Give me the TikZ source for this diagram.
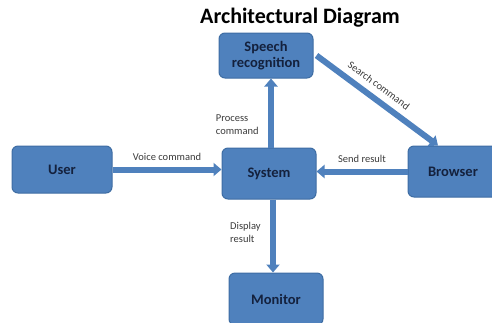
\documentclass[tikz,border=0pt]{standalone}
\usepackage{fontspec}
\setmainfont{Carlito}
\usetikzlibrary{arrows.meta}
\definecolor{boxblue}{HTML}{4F81BD}
\definecolor{boxline}{HTML}{3E6DA3}
\definecolor{boxtext}{HTML}{14213D}
\definecolor{labeltext}{HTML}{3A3A3A}
\begin{document}
\begin{tikzpicture}[x=1pt, y=-1pt,
    block/.style={rectangle, rounded corners=6pt, draw=boxline, fill=boxblue,
        line width=1pt, text=boxtext, font=\fontsize{14.5}{16}\selectfont\bfseries,
        align=center, inner sep=0pt},
    flow/.style={draw=boxblue, line width=6pt, -{Triangle[width=13pt, length=8pt]}},
    tag/.style={font=\fontsize{10.5}{12.5}\selectfont, text=labeltext, align=left}
]
    \useasboundingbox (0,0) rectangle (492,322);
    \node[font=\fontsize{22}{24}\selectfont\bfseries] (title) at (300,18) {Architectural Diagram};
    \node[block, minimum width=94pt, minimum height=45pt] (speech) at (266,55.5) {Speech\\recognition};
    \node[block, minimum width=100pt, minimum height=47pt] (user) at (62,169.5) {User};
    \node[block, minimum width=94pt, minimum height=51pt] (system) at (269,173.5) {System};
    \node[block, minimum width=90pt, minimum height=51pt] (browser) at (453,171.5) {Browser};
    \node[block, minimum width=94pt, minimum height=52pt] (monitor) at (276,299) {Monitor};
    \draw[flow] (user.east) -- (system.west |- user.east)
        node[tag, midway, above=3pt] {Voice command};
    \draw[flow] (browser.west) -- (system.east |- browser.west)
        node[tag, midway, above=3pt] {Send result};
    \draw[flow] ([xshift=2pt]system.north) -- ([xshift=2pt]system.north |- speech.south)
        node[tag, pos=0.33, left=6pt] {Process\\command};
    \draw[flow] ([xshift=4pt]system.south) -- ([xshift=4pt]system.south |- monitor.north)
        node[tag, pos=0.45, left=6pt] {Display\\result};
    \draw[flow] ([xshift=3pt]speech.east) -- ([xshift=-15pt]browser.north)
        node[tag, pos=0.45, sloped, above=3pt] {Search command};
\end{tikzpicture}
\end{document}
